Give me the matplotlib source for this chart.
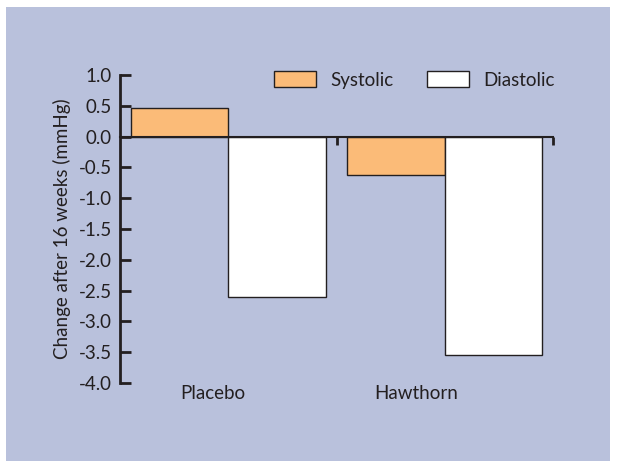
import matplotlib
matplotlib.use("Agg")
from matplotlib import pyplot as plt
from matplotlib.patches import Rectangle, Patch
import numpy as np

groups = ["Placebo", "Hawthorn"]
series = ["Systolic", "Diastolic"]
systolic = [0.47, -0.62]
diastolic = [-2.6, -3.55]
yticks = [1.0, 0.5, 0.0, -0.5, -1.0, -1.5, -2.0, -2.5, -3.0, -3.5, -4.0]

bg = "#b9c1dc"
orange = "#fbbb78"
ink = "#231f20"

plt.rcParams["font.family"] = ["Lato", "DejaVu Sans"]
plt.rcParams["axes.unicode_minus"] = False

fig = plt.figure(figsize=(6.17, 4.68), dpi=100)
fig.patch.set_facecolor("white")
fig.patches.append(Rectangle((6 / 617, 1 - 461 / 468), 604 / 617, 454 / 468,
                             transform=fig.transFigure, facecolor=bg,
                             edgecolor="none", zorder=-10))

ax = fig.add_axes([120 / 617, 1 - 383 / 468, 433 / 617, 308 / 468])
ax.set_facecolor("none")

x = np.arange(len(groups))
w = 0.45
ax.bar(x - w / 2, systolic, w, color=orange, edgecolor=ink, linewidth=1, zorder=2)
ax.bar(x + w / 2, diastolic, w, color="white", edgecolor=ink, linewidth=1, zorder=2)

ax.set_xlim(-0.5, 1.5)
ax.set_ylim(-4.0, 1.0)

for s in ["top", "right"]:
    ax.spines[s].set_visible(False)
ax.spines["left"].set_linewidth(2)
ax.spines["left"].set_color(ink)
ax.spines["bottom"].set_position(("data", 0))
ax.spines["bottom"].set_linewidth(1.5)
ax.spines["bottom"].set_color(ink)
ax.spines["bottom"].set_zorder(3)

ax.set_yticks(yticks)
ax.set_yticklabels(["%.1f" % v for v in yticks])
ax.tick_params(axis="y", direction="in", length=8, width=2, pad=6,
               labelsize=13.5, colors=ink)
ax.set_xticks([0.5, 1.5])
ax.set_xticklabels([])
ax.tick_params(axis="x", direction="out", length=6, width=2, colors=ink)

label_x = [-0.07, 0.87]
for lx, g in zip(label_x, groups):
    ax.text(lx, -4.17, g, ha="center", va="center", fontsize=13.5, color=ink,
            clip_on=False)

ax.set_ylabel("Change after 16 weeks (mmHg)", fontsize=13.5, color=ink, labelpad=5)

handles = [Patch(facecolor=orange, edgecolor=ink, linewidth=1),
           Patch(facecolor="white", edgecolor=ink, linewidth=1)]
ax.legend(handles, series, ncol=2, frameon=False, fontsize=13.5,
          handlelength=2.25, handleheight=0.9, handletextpad=0.75,
          columnspacing=1.8, loc="center left",
          bbox_to_anchor=((274 - 120) / 433, (383 - 80) / 308),
          borderaxespad=0, borderpad=0, labelcolor=ink)

fig.savefig("out.png", dpi=100)
